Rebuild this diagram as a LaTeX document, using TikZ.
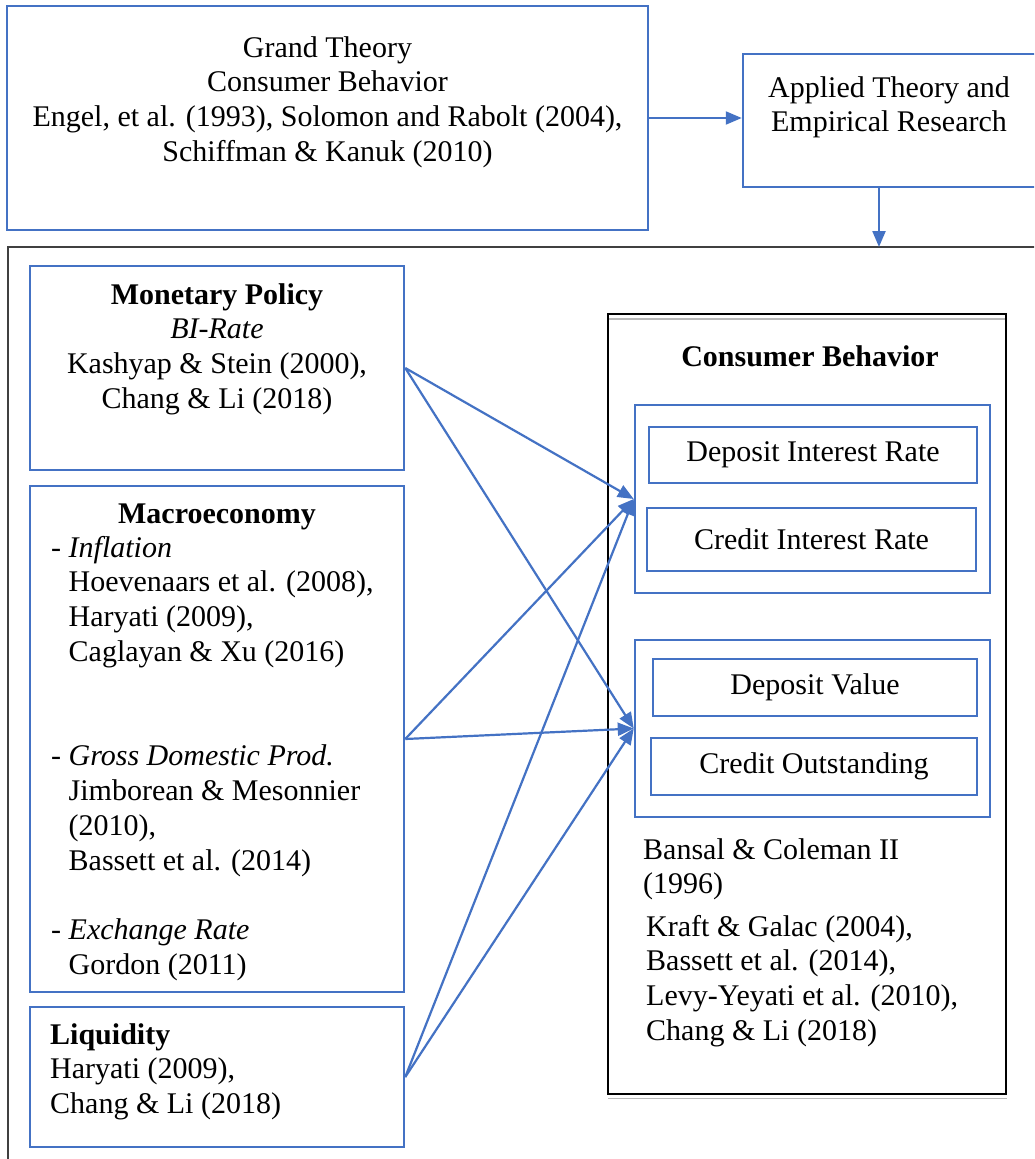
\documentclass[tikz,border=0pt]{standalone}
\usepackage{fontspec}
\setmainfont{Liberation Serif}
\usetikzlibrary{arrows.meta}
\definecolor{wblue}{HTML}{4472C4}
\definecolor{frameg}{HTML}{404040}
\begin{document}
\begin{tikzpicture}[x=1pt,y=-1pt,
  bluebox/.style={draw=wblue, line width=2.5pt, rectangle, inner sep=0pt},
  txt/.style={inner sep=0pt, font=\fontsize{30}{34.8}\selectfont},
  arr/.style={draw=wblue, line width=2.2pt, -{Triangle[length=16pt,width=13pt]}},
]
\useasboundingbox (0,0) rectangle (1034,1159);
\clip (0,0) rectangle (1034,1159);
\fill[white] (0,0) rectangle (1034,1159);

% outer frame (cut by the picture edge)
\draw[frameg, line width=1.6pt] (8,1180) -- (8,247) -- (1060,247);

% top boxes
\node[bluebox, minimum width=641pt, minimum height=224pt] (grand) at (327.5,118) {};
\node[txt, align=center, anchor=north] (grandtxt) at (327.5,32.5)
  {\strut Grand Theory\\Consumer Behavior\\Engel, et al. (1993), Solomon and Rabolt (2004),\\Schiffman \& Kanuk (2010)};
\node[bluebox, minimum width=293pt, minimum height=133pt] (applied) at (889.5,120.5) {};
\node[txt, align=center, anchor=north] (appliedtxt) at (889,72.5)
  {\strut Applied Theory and\\Empirical Research};
\coordinate (ftop) at (879,247);

% left boxes
\node[bluebox, minimum width=374pt, minimum height=204pt] (mon) at (217,368) {};
\node[txt, align=center, anchor=north] (montxt) at (217,279.5)
  {\strut\textbf{Monetary Policy}\\\textit{BI-Rate}\\Kashyap \& Stein (2000),\\Chang \& Li (2018)};

\node[bluebox, minimum width=374pt, minimum height=506pt] (mac) at (217,739) {};
\node[txt, anchor=base] (mactitle) at (217,523) {\textbf{Macroeconomy}};
\node[txt, align=left, anchor=north west] (mactxt) at (51,532.6)
  {\strut- \textit{Inflation}\\
   \phantom{- }Hoevenaars et al. (2008),\\
   \phantom{- }Haryati (2009),\\
   \phantom{- }Caglayan \& Xu (2016)\\
   \strut\\
   \strut\\
   - \textit{Gross Domestic Prod.}\\
   \phantom{- }Jimborean \& Mesonnier\\
   \phantom{- }(2010),\\
   \phantom{- }Bassett et al. (2014)\\
   \strut\\
   - \textit{Exchange Rate}\\
   \phantom{- }Gordon (2011)};

\node[bluebox, minimum width=374pt, minimum height=140pt] (liq) at (217,1077) {};
\node[txt, align=left, anchor=north west] (liqtxt) at (50,1019.6)
  {\strut\textbf{Liquidity}\\Haryati (2009),\\Chang \& Li (2018)};

% consumer behavior box
\node[draw=black, line width=2pt, rectangle, inner sep=0pt, minimum width=398pt, minimum height=780pt] (cb) at (807,704) {};
\draw[gray!55, line width=1.5pt] (609,318.8) -- (1005,318.8);
\draw[gray!55, line width=1.5pt] (608,1098.5) -- (1007,1098.5);
\node[txt, anchor=base] (cbtitle) at (810,366) {\textbf{Consumer Behavior}};

\node[bluebox, minimum width=355pt, minimum height=188pt] (g1) at (812.5,499) {};
\node[bluebox, txt, minimum width=328pt, minimum height=56pt] (dir) at (813,455) {Deposit Interest Rate};
\node[bluebox, txt, minimum width=329pt, minimum height=63pt] (cir) at (811.5,539.5) {Credit Interest Rate};

\node[bluebox, minimum width=355pt, minimum height=177pt] (g2) at (812.5,728.5) {};
\node[bluebox, txt, minimum width=324pt, minimum height=57pt] (dv) at (815,687.5) {Deposit Value};
\node[bluebox, txt, minimum width=326pt, minimum height=57pt] (co) at (814,766.5) {Credit Outstanding};

\node[txt, align=left, anchor=north west] (bansal) at (643,834.6)
  {\strut Bansal \& Coleman II\\(1996)};
\node[txt, align=left, anchor=north west] (refs) at (646,911.6)
  {\strut Kraft \& Galac (2004),\\Bassett et al. (2014),\\Levy-Yeyati et al. (2010),\\Chang \& Li (2018)};

% connectors
\draw[arr] (grand.east) -- (grand.east -| applied.west);
\draw[arr] (applied.south -| ftop) -- (ftop);
\draw[arr] (mon.east) -- (g1.west);
\draw[arr] (mon.east) -- (g2.west);
\draw[arr] (mac.east) -- (g1.west);
\draw[arr] (mac.east) -- (g2.west);
\draw[arr] (liq.east) -- (g1.west);
\draw[arr] (liq.east) -- (g2.west);
\end{tikzpicture}
\end{document}
